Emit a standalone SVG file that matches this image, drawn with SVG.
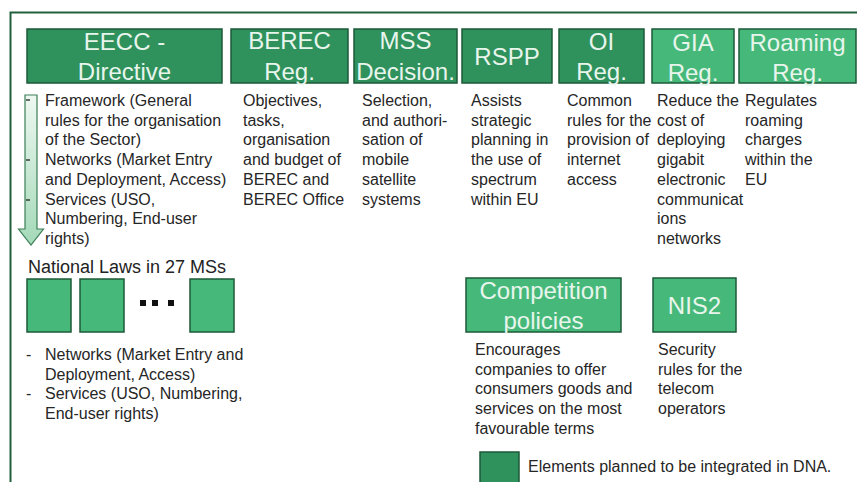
<svg xmlns="http://www.w3.org/2000/svg" width="857" height="482" viewBox="0 0 857 482">
  <defs>
    <linearGradient id="arrowFill" x1="0" y1="0" x2="0" y2="1">
      <stop offset="0" stop-color="#eef8f1"/>
      <stop offset="1" stop-color="#a3d9b8"/>
    </linearGradient>
    <style>
      .dark { fill: #2f915c; stroke: #1d5a38; stroke-width: 1.5; }
      .light { fill: #46b97a; stroke: #1d5a38; stroke-width: 1.5; }
      .title { font-family: "Liberation Sans", Arial, sans-serif; font-size: 24px; fill: #e8f5ec; text-anchor: middle; }
      .desc { font-family: "Liberation Sans", Arial, sans-serif; font-size: 16px; fill: #262626; }
      .big { font-family: "Liberation Sans", Arial, sans-serif; font-size: 18px; fill: #222222; }
    </style>
  </defs>

  <rect width="857" height="482" fill="#ffffff"/>

  <!-- outer frame (top and left edges) -->
  <path d="M857 12.5 H10.5 V482" fill="none" stroke="#22603d" stroke-width="2"/>

  <!-- EECC Directive -->
  <g id="eecc">
    <rect class="dark" x="27" y="29" width="195" height="54"/>
    <text class="title" x="124.5" y="50">EECC -</text>
    <text class="title" x="124.5" y="80">Directive</text>
    <path d="M25 95 H37 V229 H43.5 L31 245 L18.5 229 H25 Z" fill="url(#arrowFill)" stroke="#3b7e57" stroke-width="1.2"/>
    <g stroke="#222" stroke-width="1.3">
      <line x1="26" y1="100" x2="30" y2="100"/>
      <line x1="26" y1="160" x2="30" y2="160"/>
      <line x1="26" y1="200" x2="30" y2="200"/>
    </g>
    <text class="desc" x="45" y="106">
      <tspan x="45">Framework (General</tspan>
      <tspan x="45" dy="19.7">rules for the organisation</tspan>
      <tspan x="45" dy="19.7">of the Sector)</tspan>
      <tspan x="45" dy="19.7">Networks (Market Entry</tspan>
      <tspan x="45" dy="19.7">and Deployment, Access)</tspan>
      <tspan x="45" dy="19.7">Services (USO,</tspan>
      <tspan x="45" dy="19.7">Numbering, End-user</tspan>
      <tspan x="45" dy="19.7">rights)</tspan>
    </text>
  </g>

  <!-- BEREC Regulation -->
  <g id="berec">
    <rect class="dark" x="231" y="29" width="117" height="54"/>
    <text class="title" x="289.5" y="49">BEREC</text>
    <text class="title" x="289.5" y="80">Reg.</text>
    <text class="desc" x="243" y="106">
      <tspan x="243">Objectives,</tspan>
      <tspan x="243" dy="19.7">tasks,</tspan>
      <tspan x="243" dy="19.7">organisation</tspan>
      <tspan x="243" dy="19.7">and budget of</tspan>
      <tspan x="243" dy="19.7">BEREC and</tspan>
      <tspan x="243" dy="19.7">BEREC Office</tspan>
    </text>
  </g>

  <!-- MSS Decision -->
  <g id="mss">
    <rect class="dark" x="354" y="29" width="103" height="54"/>
    <text class="title" x="405.5" y="49">MSS</text>
    <text class="title" x="405.5" y="80">Decision.</text>
    <text class="desc" x="362" y="106">
      <tspan x="362">Selection,</tspan>
      <tspan x="362" dy="19.7">and authori-</tspan>
      <tspan x="362" dy="19.7">sation of</tspan>
      <tspan x="362" dy="19.7">mobile</tspan>
      <tspan x="362" dy="19.7">satellite</tspan>
      <tspan x="362" dy="19.7">systems</tspan>
    </text>
  </g>

  <!-- RSPP -->
  <g id="rspp">
    <rect class="dark" x="462" y="29" width="90" height="54"/>
    <text class="title" x="507" y="65">RSPP</text>
    <text class="desc" x="471" y="106">
      <tspan x="471">Assists</tspan>
      <tspan x="471" dy="19.7">strategic</tspan>
      <tspan x="471" dy="19.7">planning in</tspan>
      <tspan x="471" dy="19.7">the use of</tspan>
      <tspan x="471" dy="19.7">spectrum</tspan>
      <tspan x="471" dy="19.7">within EU</tspan>
    </text>
  </g>

  <!-- OI Regulation -->
  <g id="oi">
    <rect class="dark" x="559" y="29" width="85" height="54"/>
    <text class="title" x="601.5" y="50">OI</text>
    <text class="title" x="601.5" y="80">Reg.</text>
    <text class="desc" x="567" y="106">
      <tspan x="567">Common</tspan>
      <tspan x="567" dy="19.7">rules for the</tspan>
      <tspan x="567" dy="19.7">provision of</tspan>
      <tspan x="567" dy="19.7">internet</tspan>
      <tspan x="567" dy="19.7">access</tspan>
    </text>
  </g>

  <!-- GIA Regulation -->
  <g id="gia">
    <rect class="light" x="652" y="29" width="82" height="54"/>
    <text class="title" x="693" y="51">GIA</text>
    <text class="title" x="693" y="81">Reg.</text>
    <text class="desc" x="657" y="106">
      <tspan x="657">Reduce the</tspan>
      <tspan x="657" dy="19.7">cost of</tspan>
      <tspan x="657" dy="19.7">deploying</tspan>
      <tspan x="657" dy="19.7">gigabit</tspan>
      <tspan x="657" dy="19.7">electronic</tspan>
      <tspan x="657" dy="19.7">communicat</tspan>
      <tspan x="657" dy="19.7">ions</tspan>
      <tspan x="657" dy="19.7">networks</tspan>
    </text>
  </g>

  <!-- Roaming Regulation -->
  <g id="roaming">
    <rect class="light" x="739" y="29" width="117" height="54"/>
    <text class="title" x="797.5" y="51">Roaming</text>
    <text class="title" x="797.5" y="81">Reg.</text>
    <text class="desc" x="745" y="106">
      <tspan x="745">Regulates</tspan>
      <tspan x="745" dy="19.7">roaming</tspan>
      <tspan x="745" dy="19.7">charges</tspan>
      <tspan x="745" dy="19.7">within the</tspan>
      <tspan x="745" dy="19.7">EU</tspan>
    </text>
  </g>

  <!-- National laws -->
  <g id="national">
    <text class="big" x="28" y="273">National Laws in 27 MSs</text>
    <rect class="light" x="27" y="279" width="44" height="53"/>
    <rect class="light" x="80" y="279" width="44" height="53"/>
    <rect class="light" x="190" y="279" width="44" height="53"/>
    <g fill="#111">
      <rect x="140" y="300" width="6" height="6"/>
      <rect x="152" y="300" width="6" height="6"/>
      <rect x="168" y="300" width="6" height="6"/>
    </g>
    <text class="desc" x="26" y="360">-</text>
    <text class="desc" x="26" y="399.4">-</text>
    <text class="desc" x="45" y="360">
      <tspan x="45">Networks (Market Entry and</tspan>
      <tspan x="45" dy="19.7">Deployment, Access)</tspan>
      <tspan x="45" dy="19.7">Services (USO, Numbering,</tspan>
      <tspan x="45" dy="19.7">End-user rights)</tspan>
    </text>
  </g>

  <!-- Competition policies -->
  <g id="competition">
    <rect class="light" x="466" y="278" width="155" height="54"/>
    <text class="title" x="543.5" y="299">Competition</text>
    <text class="title" x="543.5" y="329">policies</text>
    <text class="desc" x="475" y="355">
      <tspan x="475">Encourages</tspan>
      <tspan x="475" dy="19.7">companies to offer</tspan>
      <tspan x="475" dy="19.7">consumers goods and</tspan>
      <tspan x="475" dy="19.7">services on the most</tspan>
      <tspan x="475" dy="19.7">favourable terms</tspan>
    </text>
  </g>

  <!-- NIS2 -->
  <g id="nis2">
    <rect class="light" x="653" y="278" width="83" height="54"/>
    <text class="title" x="694.5" y="314">NIS2</text>
    <text class="desc" x="658" y="355">
      <tspan x="658">Security</tspan>
      <tspan x="658" dy="19.7">rules for the</tspan>
      <tspan x="658" dy="19.7">telecom</tspan>
      <tspan x="658" dy="19.7">operators</tspan>
    </text>
  </g>

  <!-- Legend -->
  <g id="legend">
    <rect class="dark" x="480" y="452" width="39" height="32"/>
    <text class="desc" x="528" y="472">Elements planned to be integrated in DNA.</text>
  </g>

  <!-- no connectors in this diagram -->
  <g id="connectors"/>
</svg>
